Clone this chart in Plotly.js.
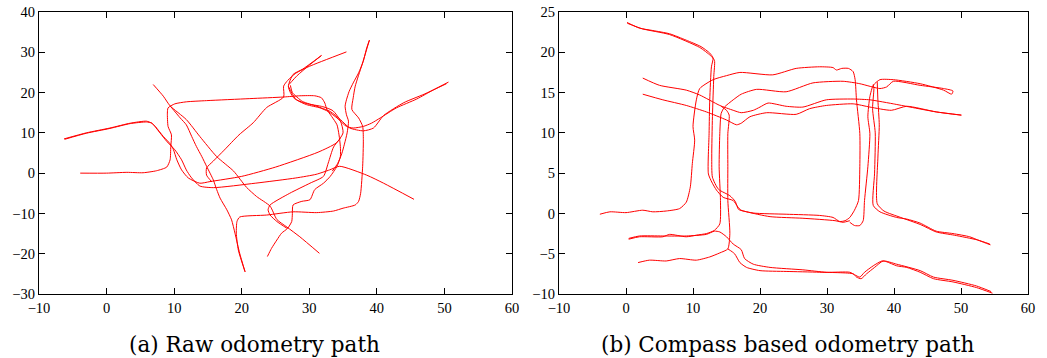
<!DOCTYPE html>
<html>
<head>
<meta charset="utf-8">
<script src="https://cdn.plot.ly/plotly-3.0.1.min.js"></script>
<style>
html,body{margin:0;padding:0;background:#fff;}
#chart{width:1047px;height:358px;}
</style>
</head>
<body>
<div id="chart"></div>
<script>
// ---------- (a) Raw odometry path : strokes as [x, y] pairs ----------
const rawA = [[-6.3,8.5],[-3,10],[0.5,11.2],[3.5,12.4],[5.9,12.9],[6.7,12.4],[7.2,11.6],[8.4,9.1],[9.4,7.3],[9.9,5.8],[10.4,3.3],[11.1,0.8],[12.1,-1.2],[13.8,-2.5],[15.3,-2.1],[20,-0.8],[25,1.5],[31.3,5.2],[34,7.5],[35,10],[34.6,13],[33.5,15.5],[32,16.5],[29.5,17.3],[27.8,18.5],[27.2,20],[26.9,21.6],[27.6,24.5],[29,25.8],[31.8,29.2]];
const rawB = [[-6.2,8.4],[-3,9.9],[0.5,11.1],[3.5,12.3],[5.9,12.7],[6.7,12.4],[7.9,10],[8.9,7.9],[10.1,5.8],[11.1,3.3],[11.8,0.8],[12.5,-1],[13.8,-3.2],[15.8,-3.6],[22,-2.5],[28,-1.2],[31,-0.3],[33,0.8],[34.5,1.7],[38.5,-0.5],[41,-2.5],[45.5,-6.5]];
const rawC = [[-3.9,0],[0,0],[3,0.2],[5.4,0.1],[7.4,0.6],[8.9,1.5],[9.4,3.3],[9.5,6.6],[9.6,9.5],[9.1,11.6],[9,14.9],[9.1,16.2],[10.1,17.2],[11.8,17.7],[14.8,18],[21.2,18.5],[26.2,18.9],[28.6,19.2],[30.8,19.2],[31.8,18.7],[32.3,17.4],[32.6,15.8],[33.3,14.1],[34.1,12],[34.4,9.5],[34.6,6.6],[34.6,4.1],[34.1,1.7],[33.1,-0.8],[32.1,-2.5],[30.8,-4.1],[30.1,-6.6],[28.9,-7],[27.6,-7.9],[27.5,-10],[27.4,-12],[26.8,-13.7],[25.9,-14.9],[25.2,-16.6],[24.4,-18.7],[23.8,-20.7]];
const rawD = [[6.9,22],[8.4,19.1],[9.4,16.7],[11.8,13.3],[13.8,9.1],[16.3,4.1],[18.8,0.5],[20.7,-3.5],[22.2,-5.8],[24.2,-8.2],[25.2,-11.5],[26.7,-13.4],[28.6,-15.8],[31.5,-19.9]];
const rawE = [[9.4,16.7],[10.9,13.7],[11.8,12],[12.6,9.1],[13.3,6.6],[14.1,4.1],[14.8,1.7],[15.8,-1.7],[16.3,-4.1],[16.8,-6.2],[17.8,-9.1],[18.5,-11.6],[19,-14.9],[19.7,-19.9],[20.5,-24.5]];
const rawF = [[15.6,-2.2],[14.8,-0.5],[14.8,1.3],[15.8,3],[17.4,5.7],[19.6,9.5],[21.7,12.5],[23.7,16.3],[26.2,18.9],[26.2,21.6],[26.8,23],[28,24.8],[30,26.5],[35.5,30.1]];
const rawG = [[27,22],[28.2,24.2],[30,26.8],[31.8,29.2]];
const rawH = [[50.6,22.6],[48.4,20.7],[45.9,18.4],[42.9,16.2],[40.5,13.7],[39.2,12.4],[38,11.6],[36.5,11.2],[35.5,11.6],[34.1,13.7],[32.8,15.3],[31.6,16.2],[29.6,17],[28.1,18.2],[27.4,19.9],[26.9,21.6]];
const rawI = [[50.3,22.2],[47,19.6],[44,17.5],[41,14.3],[39.5,11.2],[38,10.5],[36,11.2],[34.6,13.3],[33.1,15.3],[31.1,16.6],[29,17.8],[27.5,20],[27.2,21.8]];
const rawJ = [[38.9,33],[38.5,31.1],[38,27.8],[37.3,24.9],[36.5,22.4],[35.9,20.3],[35.5,18.2],[35.3,16.6],[35.5,14.5],[35.8,12.9],[35.6,10],[35.2,7.2],[34.8,4.8],[34.2,2.4],[33.4,0.5]];
const rawL = [[34.6,8.6],[33.6,6.5],[32.8,2.5],[32.1,-0.8],[30.1,-2.5],[27.1,-5],[24.2,-7.9],[23.9,-9.1],[24.2,-10.4],[25.2,-12],[26.7,-13.7]];
const rawK = [[38.9,33],[37.8,26.9],[36.8,21.6],[36.5,18.7],[36.3,15.8],[37.3,13.7],[37.9,11.6],[38,8.3],[37.9,1.7],[37.6,-5],[37.3,-7],[36.8,-7.9],[35,-8.7],[33.6,-9.4],[31.1,-9.8],[27.6,-9.6],[23.7,-10.4],[19.7,-10.9],[19.3,-12],[19.2,-14.9],[19.5,-19.1],[20.5,-24.5]];

// ---------- (b) Compass based odometry path ----------
const compA = [[0.15,23.7],[2,23],[4,22.7],[6.5,22.3],[9,21.5],[11.2,20.7],[12.5,19.9],[13,19.3],[12.75,18.2],[12.5,14.1],[12.4,9.9],[12.3,4.9],[12.8,3.9],[13.5,2.9],[14.5,2],[16,1.6],[16.7,0.8],[17.2,0.4],[19,0.05],[23.9,-0.1],[28.9,-0.25],[30.9,-0.5],[31.9,-1],[32.7,-0.9],[33.4,-0.5],[34.1,0.4],[34.7,1.6],[34.9,5.8],[34.9,9.9],[34.4,14.1],[34.2,16.6],[33.9,17.6],[33.2,18],[32.2,18],[31.4,17.8],[30.9,18.1],[28.9,18.2],[25.4,18],[21.9,17.2],[17,17.5],[15,17.1],[13,16.6],[11,15.5],[10.5,14.1],[10,10.8],[10.25,9.1],[9.9,6.2],[9.6,3.3],[9,1.4],[8,0.6],[6,0.3],[4,0.2],[2.5,0.4],[0,0.1],[-2.4,0.2],[-3.9,-0.1]];
const compB = [[0.2,23.6],[2.5,22.9],[6.5,22.2],[11,20.6],[12.6,19.6],[13.2,19],[13.1,17],[12.9,12],[12.8,7],[12.9,4.5],[13.8,3],[15.5,2.2],[16.3,1.5],[16.8,0.5],[18,0.2],[21.5,-0.4],[26.4,-0.6],[31.2,-0.9],[32.4,-1.1],[33.4,-0.9]];
const compC = [[2.5,16.8],[5,15.9],[9,15.3],[11,14.7],[14,13.4],[16,12.8],[17.2,12.5],[19,12.8],[20,13.2],[21.2,13.7],[23.9,13.3],[26.4,13.2],[29.9,14.1],[33.9,14.2],[36.4,14.1],[37.9,13.9],[39.9,13.6],[42.4,13.2],[46.3,12.6],[50.1,12.2]];
const compD = [[2.5,14.8],[5.5,14.1],[9,13.4],[12,12.6],[15,11.6],[16.5,11],[17.2,11.2],[18.5,12],[21,12.5],[25.4,12.3],[27.4,13],[29.9,13.4],[33.9,13.6],[36.4,13.2],[39.6,12.8],[41.9,13.3],[46.3,12.6],[50,12.2]];
const compE = [[0.4,-3.2],[2,-2.9],[5.5,-2.9],[6.5,-2.6],[9,-2.9],[10.5,-2.7],[12,-2.5],[13.2,-2.1],[14,-1.3],[14.1,1.6],[13.9,5.8],[14,9.9],[14.2,12.4],[14.7,13.2],[16,14.1],[17.2,14.8],[19.5,15.4],[23.9,15.1],[27.9,16.2],[32.4,16.4],[34.9,16.1],[37.9,15.5],[38.9,15.7],[39.9,16.4],[43.9,15.9],[47.4,15.5],[48.8,15.2],[48.6,14.8],[47.4,15.3],[43.9,16.1],[39.9,16.6],[37.9,16.6],[36.9,15.9],[36.4,14.5],[36.1,12],[36.4,9.9],[36.1,5.8],[35.6,1.6],[35.4,-0.9],[34.9,-1.5],[34.1,-1.5],[33.4,-1.1]];
const compF = [[0.4,-3.1],[2,-2.8],[5.5,-2.8],[9,-2.8],[12,-2.6],[13.2,-2.2],[14,-2.3],[15,-2.9],[16,-3.8],[17.2,-4.5],[17.7,-5.6],[19,-6.3],[21.5,-6.7],[26.4,-7],[29.9,-7.3],[33.4,-7.3],[34.1,-7.6],[34.9,-7.9],[35.6,-7.3],[36.9,-6.5],[38.2,-5.9],[38.9,-6],[40.4,-6.5],[41.9,-6.7],[43.9,-7.3],[45.9,-8.1],[48.8,-8.5],[52.3,-9.2],[54.7,-9.9]];
const compG = [[1.8,-6.1],[3.5,-5.8],[6,-5.9],[8,-5.6],[10.5,-5.8],[12.5,-5.4],[14,-4.9],[15.2,-4.4],[15.5,-2.5],[15.2,1.6],[15.2,5.8],[15.2,9.9],[15.4,12.2],[15,12.8],[14.2,13.3]];
const compH = [[15.2,-4.4],[16.2,-5],[17,-6.1],[18,-6.7],[20,-7.1],[23.9,-7.2],[28.9,-7.3],[33.9,-7.5],[34.4,-7.9],[35.1,-8.1],[35.9,-7.5],[37.1,-6.7],[38.4,-5.9],[40.4,-6.3],[43.9,-7.1],[45.9,-7.9],[48.8,-8.3],[52.3,-9],[54.5,-9.7]];
const compI = [[36.9,16],[37,15.5],[36.8,13],[37.2,10],[37.1,5],[36.9,1],[37.9,0.2],[40.4,-0.5],[41.9,-0.7],[43.9,-1.2],[46.3,-2.2],[48.8,-2.5],[51.3,-2.9],[52.8,-3.4],[54.4,-3.9]];
const compJ = [[37.5,16.3],[37.6,14],[37.8,11],[37.6,7],[37.5,1.2],[38.5,0.3],[41,-0.5],[44,-1.4],[46.3,-2.3],[49,-2.7],[52.5,-3.3],[54.3,-3.8]];

// axis ticks
const xTicks = [-10, 0, 10, 20, 30, 40, 50, 60];
const yTicksA = [-30, -20, -10, 0, 10, 20, 30, 40];
const yTicksB = [-10, -5, 0, 5, 10, 15, 20, 25];

const captionA = "(a) Raw odometry path";
const captionB = "(b) Compass based odometry path";

const rawStrokes = [rawA, rawB, rawC, rawD, rawE, rawF, rawG, rawH, rawI, rawJ, rawL, rawK];
const compStrokes = [compA, compB, compC, compD, compE, compF, compG, compH, compI, compJ];

function mk(stroke, xa, ya) {
  return {
    x: stroke.map(p => p[0]),
    y: stroke.map(p => p[1]),
    xaxis: xa, yaxis: ya,
    type: 'scatter', mode: 'lines',
    line: {color: '#ff0000', width: 1, shape: 'spline', smoothing: 0.6},
    hoverinfo: 'skip', showlegend: false
  };
}

const traces = rawStrokes.map(s => mk(s, 'x', 'y')).concat(compStrokes.map(s => mk(s, 'x2', 'y2')));

const tickFont = {family: 'Liberation Serif, Times New Roman, serif', size: 14.5, color: '#000'};
function axis(extra) {
  return Object.assign({
    showgrid: false, zeroline: false, showline: true, mirror: 'ticks',
    linecolor: '#000', linewidth: 1.2,
    ticks: 'inside', ticklen: 6, tickwidth: 1, tickcolor: '#000',
    tickfont: tickFont, tickmode: 'array', fixedrange: true
  }, extra);
}

const capFont = {family: 'DejaVu Serif, serif', size: 21.5, color: '#000'};
const yDom = [(358 - 294) / 358, (358 - 12) / 358];
const layout = {
  width: 1047, height: 358,
  margin: {l: 0, r: 0, t: 0, b: 0},
  paper_bgcolor: '#fff', plot_bgcolor: '#fff',
  showlegend: false,
  xaxis: axis({domain: [39 / 1047, 512 / 1047], range: [-10, 60], tickvals: xTicks, anchor: 'y'}),
  yaxis: axis({domain: yDom, range: [-30, 40], tickvals: yTicksA, anchor: 'x'}),
  xaxis2: axis({domain: [559 / 1047, 1028 / 1047], range: [-10, 60], tickvals: xTicks, anchor: 'y2'}),
  yaxis2: axis({domain: yDom, range: [-10, 25], tickvals: yTicksB, anchor: 'x2'}),
  annotations: [
    {text: captionA, xref: 'paper', yref: 'paper', x: 254 / 1047, y: (358 - 344) / 358, xanchor: 'center', yanchor: 'middle', showarrow: false, font: capFont},
    {text: captionB, xref: 'paper', yref: 'paper', x: 787 / 1047, y: (358 - 344) / 358, xanchor: 'center', yanchor: 'middle', showarrow: false, font: capFont}
  ]
};

Plotly.newPlot('chart', traces, layout, {displayModeBar: false, staticPlot: true});
</script>
</body>
</html>
